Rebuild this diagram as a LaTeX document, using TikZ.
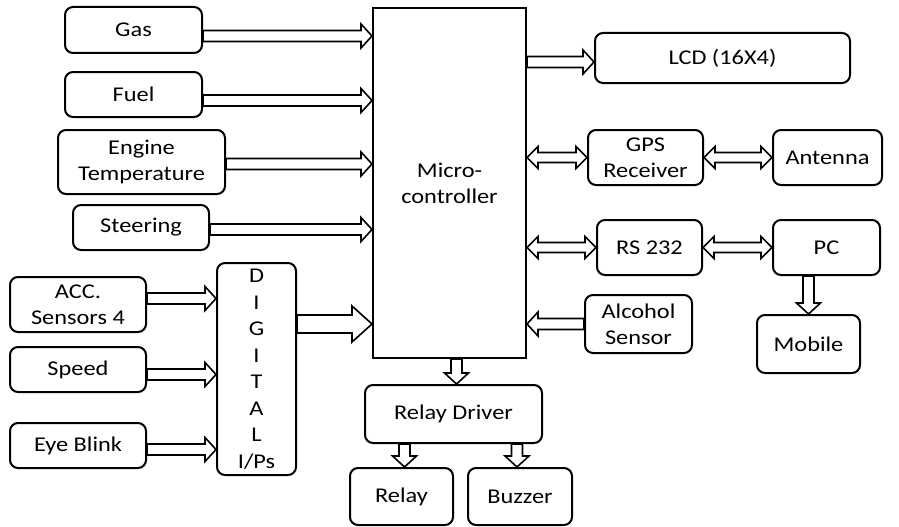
\documentclass[tikz,border=0pt]{standalone}
\usepackage{fontspec}
\setmainfont{Carlito}[FakeStretch=1.16]
\usetikzlibrary{calc}
\tikzset{%
    block/.style={draw, line width=2pt, rounded corners=8pt, align=center, inner sep=0pt, font=\fontsize{21}{26}\selectfont},
    mcu/.style={block, rounded corners=0pt},
    % hollow block arrows: shaft half width / head half width / head length
    fatarrowgen/.style n args={3}{to path={
        ($(\tikztostart)!#1!90:(\tikztotarget)$)
        -- ($(\tikztotarget)!#3!(\tikztostart)!#1!-90:(\tikztostart)$)
        -- ($(\tikztotarget)!#3!(\tikztostart)!#2!-90:(\tikztostart)$)
        -- (\tikztotarget)
        -- ($(\tikztotarget)!#3!(\tikztostart)!#2!90:(\tikztostart)$)
        -- ($(\tikztotarget)!#3!(\tikztostart)!#1!90:(\tikztostart)$)
        -- ($(\tikztostart)!#1!-90:(\tikztotarget)$) -- cycle}},
    dblarrowgen/.style n args={3}{to path={
        (\tikztostart)
        -- ($(\tikztostart)!#3!(\tikztotarget)!#2!90:(\tikztotarget)$)
        -- ($(\tikztostart)!#3!(\tikztotarget)!#1!90:(\tikztotarget)$)
        -- ($(\tikztotarget)!#3!(\tikztostart)!#1!-90:(\tikztostart)$)
        -- ($(\tikztotarget)!#3!(\tikztostart)!#2!-90:(\tikztostart)$)
        -- (\tikztotarget)
        -- ($(\tikztotarget)!#3!(\tikztostart)!#2!90:(\tikztostart)$)
        -- ($(\tikztotarget)!#3!(\tikztostart)!#1!90:(\tikztostart)$)
        -- ($(\tikztostart)!#3!(\tikztotarget)!#1!-90:(\tikztotarget)$)
        -- ($(\tikztostart)!#3!(\tikztotarget)!#2!-90:(\tikztotarget)$) -- cycle}},
    fatarrow/.style={fatarrowgen={5.5pt}{12pt}{11pt}},
    bigarrow/.style={fatarrowgen={9pt}{18pt}{20pt}},
    dblarrow/.style={dblarrowgen={5pt}{11pt}{11pt}},
}

\begin{document}
\begin{tikzpicture}[x=1pt, y=-1pt, line width=1.6pt, line join=miter]

	\useasboundingbox (0,0) rectangle (899,527);

	% sensor inputs
	\node[block, minimum width=137pt, minimum height=46pt] (gas) at (133.5,30) {Gas};
	\node[block, minimum width=137pt, minimum height=45pt] (fuel) at (133.5,94.5) {Fuel};
	\node[block, minimum width=167pt, minimum height=64pt] (eng) at (141.5,162) {Engine\\Temperature};
	\node[block, minimum width=136pt, minimum height=45pt] (steer) at (141,227.5) {Steering};

	% digital inputs
	\node[block, minimum width=136pt, minimum height=55pt] (acc) at (78,304.5) {ACC.\\Sensors 4};
	\node[block, minimum width=136pt, minimum height=45pt] (speed) at (78,369.5) {Speed};
	\node[block, minimum width=136pt, minimum height=45pt] (eye) at (78,445.5) {Eye Blink};
	\node[block, minimum width=79pt, minimum height=212pt, font=\fontsize{21}{26.5}\selectfont] (dig) at (256.5,369) {D\\I\\G\\I\\T\\A\\L\\I/Ps};

	% controller
	\node[mcu, minimum width=153pt, minimum height=350pt] (mc) at (449.5,183) {Micro-\\controller};

	% outputs and links
	\node[block, minimum width=255pt, minimum height=50pt] (lcd) at (722.5,58) {LCD (16X4)};
	\node[block, minimum width=115pt, minimum height=55pt] (gps) at (645.5,157.5) {GPS\\Receiver};
	\node[block, minimum width=109pt, minimum height=55pt] (ant) at (827.5,157.5) {Antenna};
	\node[block, minimum width=105pt, minimum height=55pt] (rs) at (649.5,247.5) {RS 232};
	\node[block, minimum width=107pt, minimum height=55pt] (pc) at (826.5,247.5) {PC};
	\node[block, minimum width=107pt, minimum height=58pt] (alc) at (638.5,324) {Alcohol\\Sensor};
	\node[block, minimum width=103pt, minimum height=58pt] (mob) at (808.5,344) {Mobile};
	\node[block, minimum width=177pt, minimum height=58pt] (rd) at (453.5,414) {Relay Driver};
	\node[block, minimum width=103pt, minimum height=57pt] (relay) at (401.5,496.5) {Relay};
	\node[block, minimum width=104pt, minimum height=57pt] (buzz) at (520,496.5) {Buzzer};

	% arrows into controller
	\draw ($(gas.east)+(0,6)$) to[fatarrow] ($(gas.east -| mc.west)+(0,6)$);
	\draw ($(fuel.east)+(0,6)$) to[fatarrow] ($(fuel.east -| mc.west)+(0,6)$);
	\draw ($(eng.east)+(0,2)$) to[fatarrow] ($(eng.east -| mc.west)+(0,2)$);
	\draw ($(steer.east)+(0,2)$) to[fatarrow] ($(steer.east -| mc.west)+(0,2)$);
	\draw ($(dig.east)+(0,-45)$) to[bigarrow] ($(dig.east -| mc.west)+(0,-45)$);
	\draw (alc.west) to[fatarrow] (alc.west -| mc.east);

	% arrows into digital block
	\draw ($(acc.east)+(0,-6)$) to[fatarrow] ($(acc.east -| dig.west)+(0,-6)$);
	\draw ($(speed.east)+(0,5)$) to[fatarrow] ($(speed.east -| dig.west)+(0,5)$);
	\draw ($(eye.east)+(0,4)$) to[fatarrow] ($(eye.east -| dig.west)+(0,4)$);

	% arrows out of controller
	\draw ($(lcd.west -| mc.east)+(0,4)$) to[fatarrow] ($(lcd.west)+(0,4)$);
	\draw (gps.west -| mc.east) to[dblarrow] (gps.west);
	\draw (gps.east) to[dblarrow] (ant.west);
	\draw (rs.west -| mc.east) to[dblarrow] (rs.west);
	\draw (rs.east) to[dblarrow] (pc.west);
	\draw (mob.north |- pc.south) to[fatarrow] (mob.north);
	\draw ($(rd.north |- mc.south)+(3,0)$) to[fatarrow] ($(rd.north)+(3,0)$);
	\draw ($(relay.north |- rd.south)+(3,0)$) to[fatarrow] ($(relay.north)+(3,0)$);
	\draw ($(buzz.north |- rd.south)+(-3,0)$) to[fatarrow] ($(buzz.north)+(-3,0)$);

\end{tikzpicture}
\end{document}
